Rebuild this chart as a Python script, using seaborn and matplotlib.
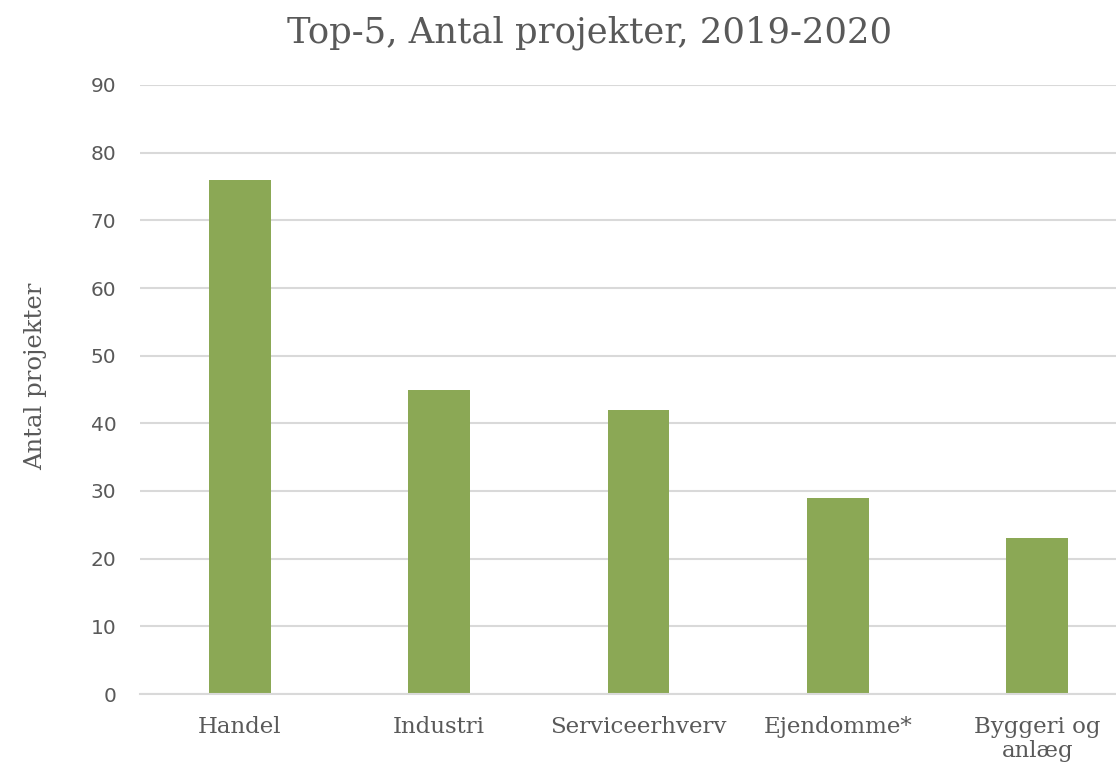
import matplotlib
matplotlib.use("Agg")
import matplotlib.pyplot as plt
import seaborn as sns
import pandas as pd

# Data
categories = ["Handel", "Industri", "Serviceerhverv", "Ejendomme*", "Byggeri og\nanlæg"]
values = [76, 45, 42, 29, 23]
yticks = [0, 10, 20, 30, 40, 50, 60, 70, 80, 90]

df = pd.DataFrame({"Kategori": categories, "Antal": values})

sns.set_style("white")
plt.rcParams["font.family"] = ["DejaVu Sans"]

text_color = "#595959"
bar_color = "#8BA855"
grid_color = "#D9D9D9"

fig = plt.figure(figsize=(11.16, 7.64), dpi=100)
ax = fig.add_axes([140 / 1116, 70 / 764, 997 / 1116, 609 / 764])

sns.barplot(data=df, x="Kategori", y="Antal", color=bar_color, width=0.31,
            saturation=1, linewidth=0, ax=ax)

ax.set_ylim(0, 90)
ax.set_xlim(-0.5, 4.5)
ax.set_yticks(yticks)
ax.yaxis.grid(True, color=grid_color, linewidth=1.5)
ax.set_axisbelow(True)
for s in ["top", "right", "left"]:
    ax.spines[s].set_visible(False)
ax.spines["bottom"].set_color(grid_color)
ax.spines["bottom"].set_linewidth(1.5)

ax.tick_params(axis="y", length=0, pad=17, labelsize=14.5, labelcolor=text_color)
ax.tick_params(axis="x", length=0, pad=16, labelcolor=text_color)
for lbl in ax.get_xticklabels():
    lbl.set_family("DejaVu Serif")
    lbl.set_fontsize(16.5)
    lbl.set_linespacing(1.1)

ax.set_xlabel("")
ax.set_ylabel("")
fig.text(36 / 1116, 388 / 764, "Antal projekter", rotation=90, ha="center", va="center",
         family="DejaVu Serif", fontsize=17.5, color=text_color)
fig.text(590 / 1116, 731 / 764, "Top-5, Antal projekter, 2019-2020", ha="center", va="center",
         family="DejaVu Serif", fontsize=25.5, color=text_color)

fig.savefig("out.png", dpi=100)
